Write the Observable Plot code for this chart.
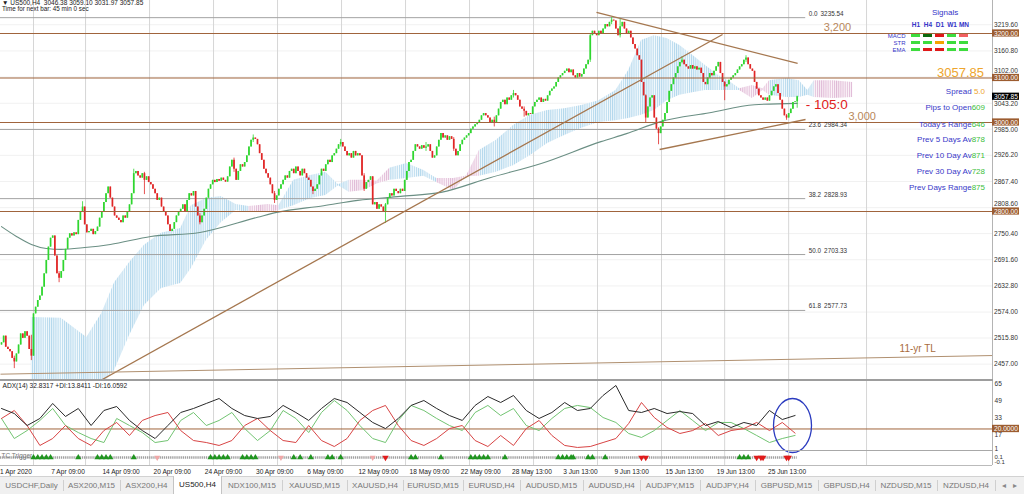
<!DOCTYPE html>
<html><head><meta charset="utf-8">
<script src="https://cdn.jsdelivr.net/npm/d3@7"></script>
<script src="https://cdn.jsdelivr.net/npm/@observablehq/plot@0.6"></script>
<style>
html,body{margin:0;padding:0;background:#fff;}
#root{position:relative;width:1024px;height:494px;overflow:hidden;background:#fff;font-family:"Liberation Sans",Arial,sans-serif;}
#root svg{display:block;overflow:visible;}
.tx{position:absolute;white-space:pre;line-height:1;}
</style></head><body><div id="root"></div>
<script>
// ===================== DATA =====================
// H4 candles, one per bar (bar 0 = 1 Apr 2020); open = previous close
const firstOpen = 2500;
const closes = [
2505,2520,2495,2490,2485,2470,2462,2480,2500,2525,2515,2530,
2520,2490,2475,2570,2585,2600,2610,2630,2660,2690,2720,2740,
2745,2700,2660,2650,2665,2690,2715,2740,2750,2745,2752,2748,
2780,2800,2810,2770,2752,2755,2760,2748,2755,2765,2785,2800,
2820,2840,2855,2830,2810,2790,2785,2780,2775,2790,2785,2800,
2815,2840,2885,2890,2880,2875,2885,2870,2878,2865,2860,2850,
2840,2825,2830,2810,2800,2790,2770,2755,2760,2775,2790,2800,
2805,2815,2800,2825,2840,2835,2845,2810,2790,2775,2790,2805,
2830,2850,2860,2870,2865,2872,2868,2875,2870,2866,2878,2900,
2915,2895,2870,2890,2905,2900,2910,2925,2945,2960,2965,2962,
2950,2930,2915,2895,2885,2875,2860,2840,2825,2835,2850,2860,
2870,2880,2875,2890,2895,2885,2900,2890,2880,2895,2885,2875,
2870,2855,2845,2850,2860,2880,2895,2890,2905,2915,2910,2925,
2930,2940,2950,2955,2945,2935,2925,2930,2920,2935,2925,2930,
2925,2880,2850,2865,2870,2878,2815,2820,2805,2815,2810,2800,
2815,2830,2840,2835,2850,2845,2840,2850,2845,2870,2890,2910,
2915,2935,2950,2945,2940,2948,2942,2945,2950,2935,2920,2925,
2945,2960,2975,2965,2970,2960,2968,2962,2940,2925,2935,2950,
2960,2965,2970,2975,2985,2990,2995,3000,3005,3015,3020,3015,
3010,3000,3005,2998,3015,3030,3045,3050,3040,3055,3050,3060,
3065,3060,3050,3035,3030,3025,3015,3020,3018,3035,3045,3050,
3055,3045,3052,3048,3060,3070,3075,3080,3090,3100,3105,3110,
3115,3120,3112,3118,3105,3100,3110,3102,3108,3120,3130,3140,
3195,3205,3200,3195,3205,3200,3210,3220,3215,3225,3230,3228,
3210,3195,3215,3225,3210,3200,3205,3190,3175,3165,3150,3140,
3090,3060,3010,3035,3055,3060,3010,2985,2975,2990,3005,3020,
3045,3070,3085,3100,3110,3125,3135,3140,3130,3125,3120,3128,
3120,3125,3118,3122,3110,3090,3085,3100,3110,3105,3115,3125,
3135,3110,3090,3080,3085,3095,3100,3105,3110,3118,3125,3130,
3140,3145,3130,3120,3115,3090,3075,3060,3055,3050,3055,3048,
3060,3070,3080,3085,3065,3050,3030,3015,3010,3020,3030,3045,
3046.38,3057.85];
// notable wicks: [bar, low, high]
const wicks = [[6,2447,2475],[14,2465,2522],[27,2640,2665],[38,2798,2822],[62,2840,2895],[67,2838,2888],
[93,2770,2795],[109,2888,2920],[118,2955,2972],[128,2818,2845],[146,2838,2855],[159,2945,2962],
[170,2845,2885],[180,2773,2818],[199,2935,2955],[212,2935,2966],[231,2990,3012],[240,3055,3072],
[245,3012,3035],[276,3135,3200],[286,3220,3235.54],[290,3190,3232],[302,3000,3062],[308,2950,2988],
[319,3132,3148],[339,3049,3092],[349,3135,3150],[368,3005,3018],[373,3031.97,3059.10]];

// moving average
const maBars   = [0,7,14,21,28,39,51,70,93,120,129,151,167,187,206,229,253,281,293,309,332,353,373];
const maValues = [2766,2744,2726,2717,2715,2719,2726,2744,2753,2787,2798,2813,2825,2834,2843,2876,2908,2957,2975,3002,3022,3040,3043];

// Ichimoku cloud
const cloudBars = [14,28,40,47,53,60,67,75,84,89,96,103,110,116,125,130,137,145,152,158,163,170,176,182,190,198,204,212,218,224,232,240,248,256,264,272,280,288,294,300,306,312,318,324,330,336,342,346,352,357,360,368,374,378,381,390,399];
const spanA = [2562,2560,2517,2571,2640,2685,2724,2751,2762,2813,2829,2834,2816,2798,2798,2813,2870,2881,2888,2860,2843,2847,2862,2897,2908,2892,2865,2847,2878,2937,2960,2993,3016,3027,3031,3038,3049,3072,3117,3184,3195,3189,3173,3151,3128,3106,3090,3072,3054,3072,3094,3099,3094,3072,3056,3054,3056];
const spanB = [2409,2402,2402,2409,2443,2521,2589,2627,2638,2672,2735,2775,2802,2811,2816,2802,2813,2829,2836,2858,2870,2870,2868,2870,2874,2879,2874,2874,2880,2879,2888,2903,2926,2953,2971,2987,3000,3004,3009,3016,3027,3049,3061,3067,3072,3072,3072,3076,3083,3076,3061,3056,3056,3061,3094,3094,3090];

// ADX(14), sampled every 6 bars
const adxStep = 6;
const adxLine = [39.5,34.7,23.3,30.0,44.3,31.9,39.5,23.3,37.6,41.4,28.1,18.5,10.9,23.3,35.7,39.5,44.3,49.0,39.5,32.8,30.0,31.9,42.4,35.7,28.1,39.5,49.0,45.2,35.7,26.2,20.4,30.0,42.4,47.1,39.5,32.8,28.1,42.4,50.9,45.2,51.9,37.6,30.0,35.7,45.2,37.6,39.5,51.9,61.4,37.6,35.7,39.5,34.7,36.6,34.7,23.3,27.1,21.4,26.2,23.3,37.6,29.0,32.83];
const plusDI  = [30.0,10.9,18.5,28.1,39.5,23.3,16.6,10.9,7.1,30.0,23.3,16.6,7.1,9.0,28.1,35.7,23.3,28.1,35.7,20.4,9.0,18.5,37.6,30.0,16.6,35.7,47.1,37.6,23.3,10.9,7.1,28.1,42.4,37.6,30.0,23.3,18.5,35.7,42.4,32.8,39.5,23.3,18.5,30.0,39.5,42.4,40.4,30.9,26.2,15.7,11.9,18.5,28.1,37.6,28.1,18.5,26.2,26.2,20.4,13.8,7.1,10.9,13.84];
const minusDI = [30.0,37.6,23.3,4.3,10.9,23.3,10.9,4.3,18.5,26.2,13.8,28.1,32.8,35.7,18.5,9.0,7.1,4.3,9.0,23.3,30.0,18.5,9.0,7.1,23.3,9.0,3.3,10.9,28.1,37.6,42.4,23.3,9.0,4.3,10.9,20.4,23.3,9.0,3.3,13.8,4.3,20.4,28.1,13.8,4.3,2.4,3.3,7.1,10.9,25.2,45.2,30.9,21.4,15.7,18.5,25.2,13.8,18.5,20.4,26.2,18.5,26.2,16.06];
const adxTicks = [65,49,33,17,1];
const adxLevel = 20;

// levels, fibonacci, axis
const levels = [3200,3100,3000,2800];
const fibLevels = ["0.0","23.6","38.2","50.0","61.8"];
const fibPrices = [3235.54,2984.34,2828.93,2703.33,2577.73];
const priceTicks = [3219.60,3160.80,3102.00,3043.20,2985.00,2926.20,2867.40,2808.60,2750.40,2691.60,2632.80,2574.00,2515.80,2457.00];
const lastPrice = 3057.85;
// trendlines [bar1, price1, bar2, price2]
const trendLines = [[46.4,2420.3,338,3197.7],[278.9,3247.2,373.2,3132.6],[308.5,2939.3,376.9,3006.7]];
const elevenYrTL = [-0.47,2434.5,464.6,2476.4];

// time axis
const timeLabels = ["1 Apr 2020","7 Apr 09:00","14 Apr 09:00","20 Apr 09:00","24 Apr 09:00","30 Apr 09:00","6 May 09:00","12 May 09:00","18 May 09:00","22 May 09:00","28 May 13:00","3 Jun 13:00","9 Jun 13:00","15 Jun 13:00","19 Jun 13:00","25 Jun 13:00"];
const barsPerLabel = 24;
const gridBars = [15,39.4,69.4,99.4,129.4,159.4,189.4,219.4,249.4,279.4,309.4,339,369,405.5];

// TC trigger arrows (bars)
const tcUp = [15,17,19,21,23,36,45,47,49,51,62,98,100,102,104,106,113,115,117,119,137,140,145,153,155,159,192,194,206,220,222,224,226,228,236,261,263,265,267,268,275,277,283,346,348,350];
const tcDown = [180,300,302,354,356,357,368,369];
const tcFaint = [73,131,174];

// signals panel
const sigCols = ["H1","H4","D1","W1","MN"];
const sigRows = ["MACD","STR","EMA"];
const sigColors = [
  ["#3ddc3d","#0d6a0d","#e01818","#3ddc3d","#f26060"],
  ["#3ddc3d","#3ddc3d","#f5a300","#3ddc3d","#3ddc3d"],
  ["#3ddc3d","#e01818","#e01818","#3ddc3d","#3ddc3d"]];
const infoRows = [["Spread ","5.0"],["Pips to Open","609"],["Today's Range","646"],["Prev 5 Days Av","878"],["Prev 10 Day Av","871"],["Prev 30 Day Av","728"],["Prev Days Range","875"]];

const tabNames = ["USDCHF,Daily","ASX200,M15","ASX200,H4","US500,H4","NDX100,M15","XAUUSD,M15","XAUUSD,H4","EURUSD,M15","EURUSD,H4","AUDUSD,M15","AUDUSD,H4","AUDJPY,M15","AUDJPY,H4","GBPUSD,M15","GBPUSD,H4","NZDUSD,M15","NZDUSD,H4"];
const activeTab = "US500,H4";

// ===================== LAYOUT / STYLE =====================
const root = document.getElementById("root");
const FONT = "Liberation Sans, Arial, sans-serif";
const X0 = -0.469, X1 = 464.55, XBOX = 477.2;
const UP = "#2fd62f", DOWN = "#e02626", BROWN = "#a0643c", BOXBROWN = "#9c5c30";
const CLOUD_UP = "#bcdcef", CLOUD_DN = "#e6c6de";
const tabEdges = [0,63,120,173,222,282,347,403,463,520,583,640,700,755,818,875,937,995];
const PX_PER_POINT = 380 / (3274.1 - 2420.3);

function place(el, left, top) {
  const d = document.createElement("div");
  d.style.cssText = `position:absolute;left:${left}px;top:${top}px;`;
  d.appendChild(el); root.appendChild(d); return d;
}
function text(str, css) {
  const d = document.createElement("div");
  d.className = "tx"; d.textContent = str; d.style.cssText += css;
  root.appendChild(d); return d;
}
function line(css) { const d = document.createElement("div"); d.style.cssText = "position:absolute;" + css; root.appendChild(d); }

// ===================== BUILD ROWS =====================
const candles = closes.map((c, i) => {
  const o = i === 0 ? firstOpen : closes[i - 1];
  return {bar: i, open: o, close: c, low: Math.min(o, c), high: Math.max(o, c)};
});
wicks.forEach(([b, lo, hi]) => { const k = candles[b]; k.low = Math.min(lo, k.low); k.high = Math.max(hi, k.high); });
const colorOf = d => d.close >= d.open ? UP : DOWN;

const ma = maBars.map((b, i) => ({bar: b, v: maValues[i]}));

const cloudRows = cloudBars.map((b, i) => ({bar: b, lo: Math.min(spanA[i], spanB[i]), hi: Math.max(spanA[i], spanB[i]), bull: spanA[i] >= spanB[i]}));
const cloudSegs = [];
let cur = null;
cloudRows.forEach((r) => {
  if (!cur || cur.bull !== r.bull) {
    if (cur) cur.rows.push(r);
    cur = {bull: r.bull, rows: [], id: cloudSegs.length};
    cloudSegs.push(cur);
  }
  cur.rows.push(r);
});
const cloudUp = cloudSegs.filter(s => s.bull).flatMap(s => s.rows.map(r => ({...r, seg: s.id})));
const cloudDn = cloudSegs.filter(s => !s.bull).flatMap(s => s.rows.map(r => ({...r, seg: s.id})));

const fib = fibLevels.map((l, i) => ({level: l, price: fibPrices[i]}));
const trends = trendLines.map(([b1, p1, b2, p2]) => ({b1, p1, b2, p2}));
const boxed = levels.map(p => ({price: p, fill: BOXBROWN})).concat([{price: lastPrice, fill: "#000000"}]);
// tick labels next to a boxed level are pushed clear of the box (as the terminal does)
const tickDy = p => {
  const b = boxed.find(b => Math.abs(p - b.price) < 16);
  if (!b) return 0;
  const gap = Math.abs(p - b.price) * PX_PER_POINT, need = 7.2;
  if (gap >= need) return 0;
  return p >= b.price ? -(need - gap) : (need - gap);
};

const adxRows = adxLine.map((v, i) => ({bar: i * adxStep, adx: v, plus: plusDI[i], minus: minusDI[i]}));
const labelRows = timeLabels.map((t, i) => ({bar: i * barsPerLabel, t}));

// ===================== MAIN CHART =====================
const main = Plot.plot({
  width: 1024, height: 380, marginLeft: 0, marginRight: 32, marginTop: 0, marginBottom: 0,
  x: {domain: [X0, X1], axis: null},
  y: {domain: [2420.3, 3274.1], axis: null},
  style: {background: "transparent", fontFamily: FONT, overflow: "visible"},
  marks: [
    Plot.ruleY(priceTicks, {stroke: "#f1f1f1"}),
    Plot.ruleX(gridBars, {stroke: "#d6d6d6"}),
    Plot.areaY(cloudUp, {x: "bar", y1: "lo", y2: "hi", z: "seg", fill: CLOUD_UP, clip: true}),
    Plot.areaY(cloudDn, {x: "bar", y1: "lo", y2: "hi", z: "seg", fill: CLOUD_DN, clip: true}),
    Plot.ruleY(fib, {y: "price", x1: X0, x2: 377, stroke: "#a3a3a3"}),
    Plot.line(ma, {x: "bar", y: "v", curve: "monotone-x", stroke: "#6b8f84", strokeWidth: 1.1}),
    Plot.ruleX(candles, {x: "bar", y1: "low", y2: "high", stroke: colorOf, strokeWidth: 0.8}),
    Plot.ruleX(candles, {x: "bar", y1: "open", y2: "close", stroke: colorOf, strokeWidth: 1.7}),
    Plot.ruleY(levels, {stroke: BROWN, strokeWidth: 1.2}),
    Plot.link(trends, {x1: "b1", y1: "p1", x2: "b2", y2: "p2", stroke: "#a5774f", strokeWidth: 1.3, clip: true}),
    Plot.link([elevenYrTL], {x1: d => d[0], y1: d => d[1], x2: d => d[2], y2: d => d[3], stroke: "#b09070", strokeWidth: 1, clip: true}),
    Plot.ruleX([X1], {stroke: "#b4b4b4"}),
    // fib labels
    Plot.text(fib, {x: 378.4, y: "price", text: d => d.level + "\u2002" + d.price.toFixed(2), textAnchor: "start", dy: -4, fontSize: 6.3, fill: "#333"}),
    // level annotations
    Plot.text([{bar: 385.4, price: 3200, t: "3,200"}, {bar: 397, price: 3000, t: "3,000"}], {x: "bar", y: "price", text: "t", textAnchor: "start", dy: -6, fontSize: 11, fill: "#b8875a"}),
    Plot.text([{bar: 421, price: 2477, t: "11-yr TL"}], {x: "bar", y: "price", text: "t", textAnchor: "start", dy: -6, fontSize: 10, fill: "#a86b3c"}),
    Plot.text([{bar: 377, price: 3040, t: "- 105:0"}], {x: "bar", y: "price", text: "t", textAnchor: "start", fontSize: 13.5, fill: "#e02020"}),
    // right price axis
    ...priceTicks.map(p => Plot.text([p], {y: d => d, text: d => d.toFixed(2), frameAnchor: "right", textAnchor: "start", dx: 1.5, dy: tickDy(p), fontSize: 6.6, fill: "#333"})),
    Plot.rect(boxed, {x1: X1, x2: XBOX, y1: d => d.price - 8.1, y2: d => d.price + 8.1, fill: "fill"}),
    Plot.text(boxed, {y: "price", text: d => d.price.toFixed(2), frameAnchor: "right", textAnchor: "start", dx: 1.5, fontSize: 6.6, fill: "#ffffff"})
  ]
});
// hatch patterns for the cloud
{
  const svg = d3.select(main);
  const defs = svg.insert("defs", ":first-child");
  [["hatchUp", "#f4fafd", "#b2d7ec"], ["hatchDn", "#fcf5f9", "#dfb9d6"]].forEach(([id, bg, fg]) => {
    const p = defs.append("pattern").attr("id", id).attr("patternUnits", "userSpaceOnUse").attr("width", 2.133).attr("height", 4);
    p.append("rect").attr("width", 2.133).attr("height", 4).attr("fill", bg);
    p.append("rect").attr("width", 1).attr("height", 4).attr("fill", fg);
  });
  svg.selectAll(`g[fill="${CLOUD_UP}"]`).attr("fill", "url(#hatchUp)");
  svg.selectAll(`g[fill="${CLOUD_DN}"]`).attr("fill", "url(#hatchDn)");
}
place(main, 0, 0);

// ===================== ADX PANEL =====================
const ellipseSymbol = {draw(ctx) {
  const rx = 19, ry = 27, k = 0.5523;
  ctx.moveTo(rx, 0);
  ctx.bezierCurveTo(rx, k * ry, k * rx, ry, 0, ry);
  ctx.bezierCurveTo(-k * rx, ry, -rx, k * ry, -rx, 0);
  ctx.bezierCurveTo(-rx, -k * ry, -k * rx, -ry, 0, -ry);
  ctx.bezierCurveTo(k * rx, -ry, rx, -k * ry, rx, 0);
  ctx.closePath();
}};
const adx = Plot.plot({
  width: 1024, height: 70, marginLeft: 0, marginRight: 32, marginTop: 0, marginBottom: 0,
  x: {domain: [X0, X1], axis: null},
  y: {domain: [-0.5, 66.16], axis: null},
  style: {background: "transparent", fontFamily: FONT, overflow: "visible"},
  marks: [
    Plot.ruleX(gridBars, {stroke: "#d6d6d6"}),
    Plot.ruleY([adxLevel], {stroke: BROWN, strokeWidth: 1}),
    Plot.line(adxRows, {x: "bar", y: "plus", stroke: "#72c472", strokeWidth: 1}),
    Plot.line(adxRows, {x: "bar", y: "minus", stroke: "#d84444", strokeWidth: 1}),
    Plot.line(adxRows, {x: "bar", y: "adx", stroke: "#2a2a2a", strokeWidth: 1}),
    Plot.dot([{bar: 370.8, v: 23.3}], {x: "bar", y: "v", symbol: ellipseSymbol, stroke: "#2b3bbf", fill: "none", strokeWidth: 1.3}),
    Plot.ruleX([X1], {stroke: "#b4b4b4"}),
    Plot.text(["ADX(14) 32.8317 +DI:13.8411 -DI:16.0592"], {frameAnchor: "top-left", textAnchor: "start", lineAnchor: "top", dx: 2, dy: 3, fontSize: 6.6, fill: "#222"}),
    Plot.text(adxTicks.filter(t => t > 5), {y: d => d, text: d => String(d), frameAnchor: "right", textAnchor: "start", lineAnchor: "top", dx: 2, fontSize: 6.6, fill: "#333"}),
    Plot.text(adxTicks.filter(t => t <= 5), {y: d => d, text: d => String(d), frameAnchor: "right", textAnchor: "start", lineAnchor: "top", dx: 2, dy: -2.5, fontSize: 6.6, fill: "#333"}),
    Plot.rect([adxLevel], {x1: X1, x2: XBOX, y1: d => d - 3.5, y2: d => d + 3.5, fill: BOXBROWN}),
    Plot.text([adxLevel], {y: d => d, text: d => d.toFixed(4), frameAnchor: "right", textAnchor: "start", dx: 1.5, fontSize: 6.6, fill: "#fff"})
  ]
});
place(adx, 0, 380);

// ===================== TC TRIGGER + TIME AXIS =====================
const tc = Plot.plot({
  width: 1024, height: 26, marginLeft: 0, marginRight: 32, marginTop: 0, marginBottom: 0,
  x: {domain: [X0, X1], axis: null},
  y: {domain: [-19, 7], axis: null},
  style: {background: "transparent", fontFamily: FONT, overflow: "visible"},
  marks: [
    Plot.ruleX(gridBars, {y1: -8, y2: 7, stroke: "#d6d6d6"}),
    Plot.ruleY([0], {x1: X0, x2: 373, stroke: "#a0a0a0", strokeWidth: 2.6, strokeDasharray: "1.3,0.8"}),
    Plot.text(["TC Trigger"], {x: X0, y: 1.5, textAnchor: "start", dx: 1, fontSize: 6.5, fill: "#777"}),
    Plot.dot(tcFaint, {x: d => d, y: 0, symbol: "triangle", rotate: 180, r: 2.2, fill: "#f0a8a8"}),
    Plot.dot(tcUp, {x: d => d, y: 0, symbol: "triangle", r: 2.3, fill: "#1f951f"}),
    Plot.dot(tcDown, {x: d => d, y: 0, symbol: "triangle", rotate: 180, r: 2.4, fill: "#e01b1b"}),
    Plot.ruleY([-8], {stroke: "#bbbbbb"}),
    Plot.ruleX([X1], {y1: -8, y2: 7, stroke: "#b4b4b4"}),
    Plot.text(labelRows, {x: "bar", y: -14, text: "t", textAnchor: "start", dx: -1.5, fontSize: 6.6, fill: "#222"}),
    Plot.text(["0.1", "-0.1"], {y: (d, i) => i === 0 ? 0.8 : -4.6, text: d => d, frameAnchor: "right", textAnchor: "start", dx: 2, fontSize: 6, fill: "#333"})
  ]
});
place(tc, 0, 450);

// panel separators
line("left:0;top:379px;width:993px;height:2px;background:#9d9d9d;");
line("left:0;top:450px;width:993px;height:1px;background:#a8a8a8;");

// ===================== HEADER =====================
text("\u25BC US500,H4  3046.38 3059.10 3031.97 3057.85", "left:2px;top:0px;font-size:6.5px;color:#222;");
text("Time for next bar: 45 min 0 sec", "left:2px;top:5.5px;font-size:6.3px;color:#222;");

// ===================== SIGNALS =====================
const sigData = sigRows.flatMap((r, i) => sigCols.map((c, j) => ({r, c, col: sigColors[i][j]})));
const sig = Plot.plot({
  width: 100, height: 56, marginLeft: 27, marginRight: 8, marginTop: 27, marginBottom: 4,
  x: {domain: sigCols, padding: 0.22, axis: "top", tickSize: 0, tickPadding: 4, label: null},
  y: {domain: sigRows, padding: 0.55, tickSize: 0, tickPadding: 2, label: null},
  style: {background: "transparent", fontFamily: FONT, fontSize: "6px", color: "#3535c8", overflow: "visible"},
  marks: [Plot.cell(sigData, {x: "c", y: "r", fill: "col"})]
});
d3.select(sig).selectAll('g[aria-label="x-axis"] text, g[aria-label="x-axis tick label"] text').style("font-weight", "bold").style("font-size", "6.5px");
place(sig, 880, 3);
text("Signals", "left:932px;top:9px;font-size:8px;color:#3535c8;");

// ===================== INFO TEXT =====================
text(lastPrice.toFixed(2), "right:40px;top:66px;font-size:13px;color:#eea52c;");
const infoTops = [88, 104, 121, 136, 152, 168, 184];
infoRows.forEach(([label, val], i) => {
  const d = document.createElement("div");
  d.className = "tx";
  d.style.cssText += `right:39px;top:${infoTops[i]}px;font-size:8px;color:#3838c8;`;
  const s = document.createElement("span");
  s.textContent = val;
  s.style.color = i === 0 ? "#eea52c" : "#3cc03c";
  d.appendChild(document.createTextNode(label));
  d.appendChild(s);
  root.appendChild(d);
});

// ===================== TAB BAR =====================
const bar = document.createElement("div");
bar.style.cssText = "position:absolute;left:0;top:476px;width:1024px;height:18px;background:#f0f0f0;border-top:1px solid #d2d2d2;";
root.appendChild(bar);
tabNames.forEach((name, i) => {
  const t = document.createElement("div");
  const left = tabEdges[i], w = tabEdges[i + 1] - tabEdges[i];
  const active = name === activeTab;
  t.textContent = name;
  t.style.cssText = `position:absolute;left:${left}px;top:${active ? -1 : 0}px;width:${w}px;height:${active ? 18 : 17}px;line-height:17px;text-align:center;font-size:8px;color:${active ? "#222" : "#777"};` +
    (active ? "background:#fff;border-left:1px solid #c4c4c4;border-right:1px solid #c4c4c4;box-sizing:border-box;" : "");
  bar.appendChild(t);
  if (!active && name !== tabNames[tabNames.indexOf(activeTab) - 1]) {
    const s = document.createElement("div");
    s.style.cssText = `position:absolute;left:${tabEdges[i + 1]}px;top:3px;width:1px;height:11px;background:#cfcfcf;`;
    bar.appendChild(s);
  }
});
const arr = document.createElement("div");
arr.textContent = "\u25C2   \u25B8";
arr.style.cssText = "position:absolute;left:1002px;top:4px;font-size:8px;color:#888;white-space:pre;";
bar.appendChild(arr);
</script></body></html>
